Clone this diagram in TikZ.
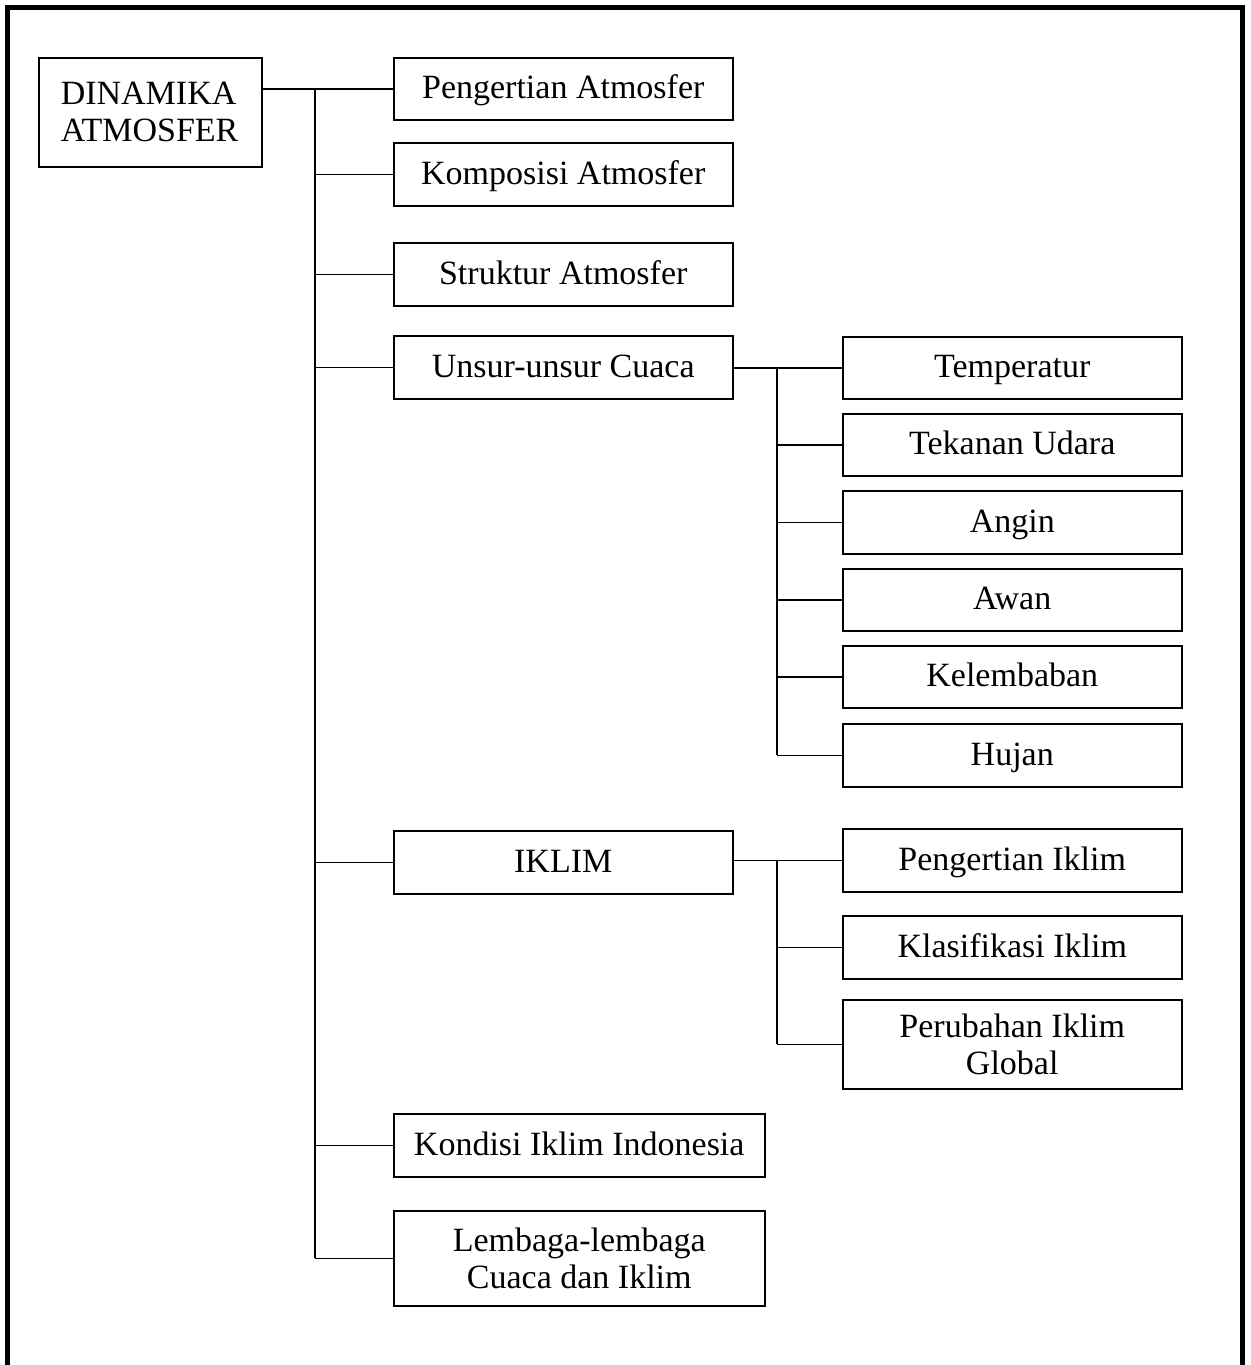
\documentclass[tikz,border=0pt]{standalone}
\usepackage{fontspec}
\setmainfont{Liberation Serif}
\begin{document}
\begin{tikzpicture}[x=1pt,y=-1pt,
  box/.style={draw, line width=1.5pt, inner sep=0pt, align=center, anchor=north west,
    font=\fontsize{34}{37}\selectfont},
  one/.style={text height=23pt, text depth=3pt},
  wide/.style={minimum width=339pt},
  link/.style={line width=1.5pt},
  frame/.style={line width=5pt, line join=miter}]
\useasboundingbox (0,0) rectangle (1250,1365);
\draw[frame] (7.5,1365) -- (7.5,7.5) -- (1242.5,7.5) -- (1242.5,1365);

\node[box, align=left, inner xsep=22pt, text width=179pt, minimum height=109pt] (din) at (38,57) {DINAMIKA\\ATMOSFER};

\node[box, one, wide, minimum height=62pt] (peng) at (393,57) {Pengertian Atmosfer};
\node[box, one, wide, minimum height=63pt] (komp) at (393,142) {Komposisi Atmosfer};
\node[box, one, wide, minimum height=63pt] (stru) at (393,242) {Struktur Atmosfer};
\node[box, one, wide, minimum height=63pt] (uns) at (393,335) {Unsur-unsur Cuaca};
\node[box, one, wide, minimum height=63pt] (ikl) at (393,830) {IKLIM};
\node[box, one, minimum width=371pt, minimum height=63pt] (kon) at (393,1113) {Kondisi Iklim Indonesia};
\node[box, minimum width=371pt, minimum height=95pt] (lem) at (393,1210) {Lembaga-lembaga\\Cuaca dan Iklim};

\node[box, one, wide, minimum height=62pt] (temp) at (842,336) {Temperatur};
\node[box, one, wide, minimum height=62pt] (tek) at (842,413) {Tekanan Udara};
\node[box, one, wide, minimum height=63pt] (ang) at (842,490) {Angin};
\node[box, one, wide, minimum height=62pt] (awan) at (842,568) {Awan};
\node[box, one, wide, minimum height=62pt] (kel) at (842,645) {Kelembaban};
\node[box, one, wide, minimum height=63pt] (huj) at (842,723) {Hujan};

\node[box, one, wide, minimum height=63pt] (pi) at (842,828) {Pengertian Iklim};
\node[box, one, wide, minimum height=63pt] (ki) at (842,915) {Klasifikasi Iklim};
\node[box, wide, minimum height=89pt] (pig) at (842,999) {Perubahan Iklim\\Global};

% main trunk
\coordinate (tk) at (315,0);
\draw[link] (din.east |- peng.west) -- (peng.west);
\draw[link] (tk |- peng.west) -- (tk |- lem.west);
\foreach \n in {komp,stru,uns,ikl,kon,lem}
  \draw[link] (tk |- \n.west) -- (\n.west);

% weather sub-trunk
\coordinate (su) at (777,0);
\draw[link] (uns.east |- temp.west) -- (temp.west);
\draw[link] (su |- temp.west) -- (su |- huj.west);
\foreach \n in {tek,ang,awan,kel,huj}
  \draw[link] (su |- \n.west) -- (\n.west);

% climate sub-trunk
\coordinate (si) at (777,0);
\draw[link] (ikl.east |- pi.west) -- (pi.west);
\draw[link] (si |- pi.west) -- (si |- pig.west);
\foreach \n in {ki,pig}
  \draw[link] (si |- \n.west) -- (\n.west);
\end{tikzpicture}
\end{document}
